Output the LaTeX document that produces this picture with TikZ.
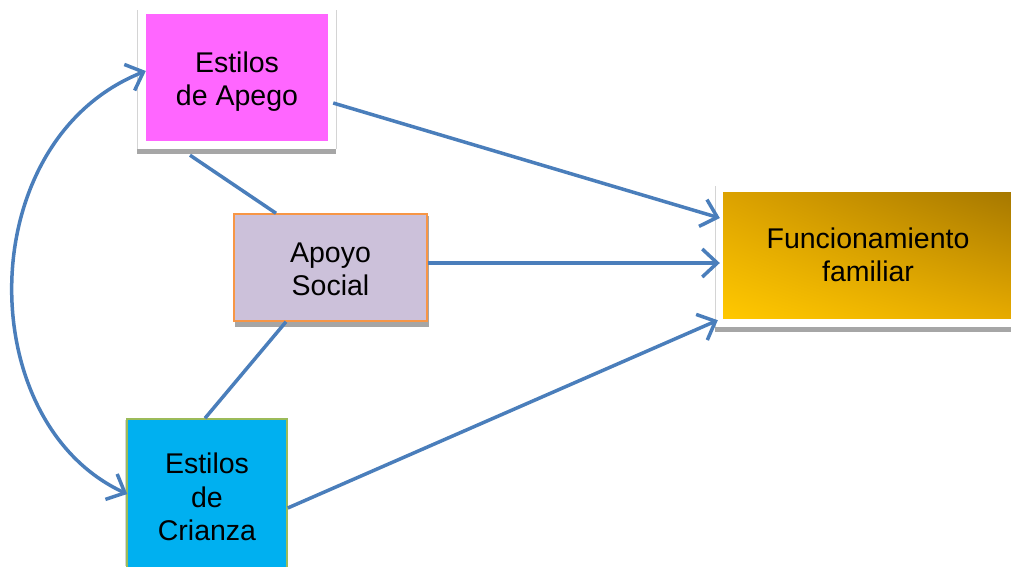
\documentclass[tikz,border=0pt]{standalone}
\usepackage{fontspec}
\setmainfont{Liberation Sans}
\usetikzlibrary{arrows.meta,shadings}
\definecolor{apegofill}{HTML}{FF66FF}
\definecolor{apoyofill}{HTML}{CCC1DA}
\definecolor{apoyoline}{HTML}{F79646}
\definecolor{crianzafill}{HTML}{00B0F0}
\definecolor{crianzaline}{HTML}{9BBB59}
\definecolor{link}{HTML}{4A7EBB}
\definecolor{shadowgray}{HTML}{A6A6A6}
\definecolor{framegray}{HTML}{D4D4D4}
\definecolor{goldA}{HTML}{FFC800}
\definecolor{goldB}{HTML}{A67800}
\definecolor{goldC}{HTML}{DCA200}
\definecolor{goldD}{HTML}{E6AA00}
\tikzset{
  box/.style={inner sep=0pt, align=center, text=black,
    font=\fontsize{28.5pt}{33.5pt}\selectfont},
  link/.style={draw=link, line width=3.5pt},
  tip/.tip={Straight Barb[length=15pt,width=28pt]},
  arr/.style={link, -tip},
  dblarr/.style={link, tip-tip},
  framebar/.style={fill=shadowgray, draw=none},
  frameside/.style={draw=framegray, line width=1pt},
}
\begin{document}
\begin{tikzpicture}[x=1pt,y=-1pt]
\useasboundingbox (0,0) rectangle (1011,566);
\clip (0,0) rectangle (1011,566);

% frames and shadows behind the boxes
\draw[frameside] (137,10) -- (137,149) (336,10) -- (336,149);
\fill[framebar] (137,149) rectangle (336,154);
\draw[frameside] (715,186) -- (715,327);
\fill[framebar] (715,327) rectangle (1011,332);
\fill[shadowgray] (235,216) rectangle (429,327);
\draw[frameside] (125,420) -- (125,566);

% boxes
\node[box, fill=apegofill, minimum width=182pt, minimum height=127pt, text height=62pt] (ap) at (237,77.5) {Estilos\\de Apego};
\node[box, fill=apoyofill, draw=apoyoline, line width=1.5pt, minimum width=193pt, minimum height=107pt, text height=57pt] (as) at (330.5,267.5) {Apoyo\\Social};
\node[box, lower left=goldA, upper right=goldB, upper left=goldC, lower right=goldD, minimum width=290pt, minimum height=126pt] (fn) at (868,255) {Funcionamiento\\familiar};
\node[box, fill=crianzafill, draw=crianzaline, line width=1.5pt, minimum width=160pt, minimum height=156pt] (cr) at (207,497) {Estilos\\de\\Crianza};

% connectors
\draw[arr] ([xshift=5pt,yshift=-25.5pt]ap.east) -- ([xshift=-3pt,yshift=37pt]fn.west);
\draw[arr] ([yshift=4.5pt]as.east) -- ([xshift=-3pt,yshift=-8pt]fn.west);
\draw[arr] ([yshift=-11pt]cr.east) -- ([xshift=-5pt,yshift=-2pt]fn.south west);
\draw[link] ([xshift=-47pt,yshift=-14pt]ap.south) -- ([xshift=-54.5pt]as.north);
\draw[link] ([xshift=-44.5pt]as.south) -- ([xshift=-2pt]cr.north);
\draw[dblarr] ([yshift=6.5pt]ap.west) .. controls +(-174,69) and +(-156,-72) .. ([xshift=1pt,yshift=3pt]cr.west);
\end{tikzpicture}
\end{document}
